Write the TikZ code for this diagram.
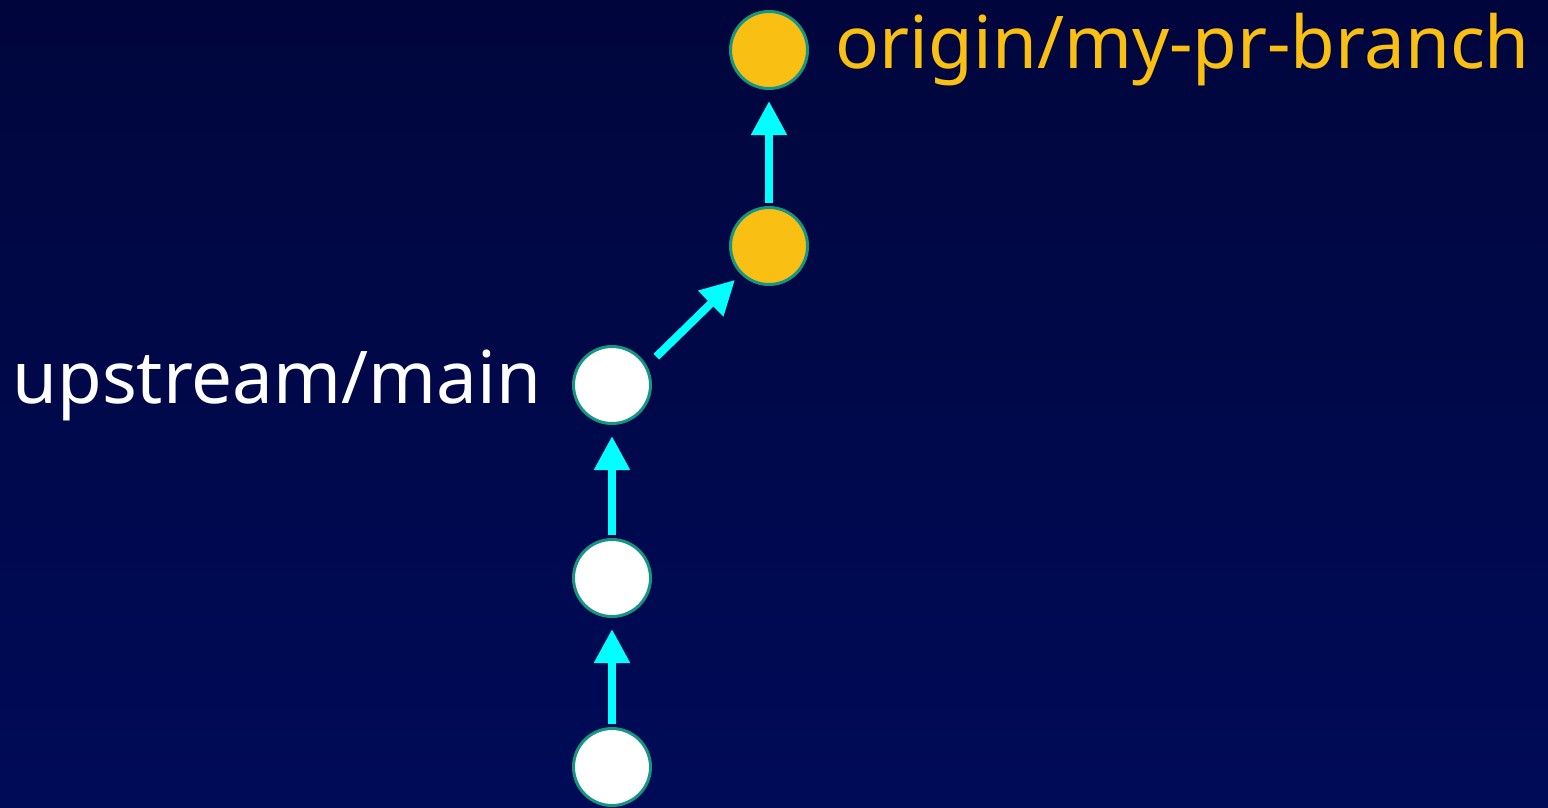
\documentclass[tikz,border=0pt]{standalone}
\usepackage{fontspec}
\setmainfont{Noto Sans}
\usepackage{tikz}
\definecolor{bgtop}{RGB}{0, 6, 60}
\definecolor{bgbottom}{RGB}{0, 11, 88}
\definecolor{commitgold}{RGB}{249, 191, 19}
\definecolor{commitedge}{RGB}{22, 150, 128}
\definecolor{linkcyan}{RGB}{0, 255, 255}
\usetikzlibrary{arrows.meta, positioning, calc}

\begin{document}
\begin{tikzpicture}[
    commit/.style={circle, draw=commitedge, line width=0.03cm, fill=white,
                   minimum size=0.77cm, inner sep=0pt},
    pr/.style={commit, fill=commitgold},
    lbl/.style={font=\fontsize{20.7}{24}\selectfont, inner sep=0pt},
    link/.style={-{Triangle[length=0.34cm, width=0.34cm]}, line width=0.08cm,
                 linkcyan, shorten <=0.03cm, shorten >=0.11cm}
]
    \shade[top color=bgtop, bottom color=bgbottom] (0,0) rectangle (15.48,8.07);
    \useasboundingbox (0,0) rectangle (15.48,8.07);

    \node[commit] (base) at (6.12,0.40) {};
    \node[commit] (mid) at (6.12,2.29) {};
    \node[commit] (main) at (6.12,4.22) {};
    \node[pr] (pr1) at (7.69,5.61) {};
    \node[pr] (pr2) at (7.69,7.57) {};

    \node[lbl, white, left=0.30cm of main] (mainlbl) {upstream/main};
    \node[lbl, commitgold, right=0.26cm of pr2] (prlbl) {origin/my-pr-branch};

    \draw[link] (base) -- (mid);
    \draw[link] (mid) -- (main);
    \draw[link, shorten <=0pt, shorten >=0.08cm] ($(main.45)+(0.16,0)$) -- (pr1.225);
    \draw[link] (pr1) -- (pr2);
\end{tikzpicture}
\end{document}
